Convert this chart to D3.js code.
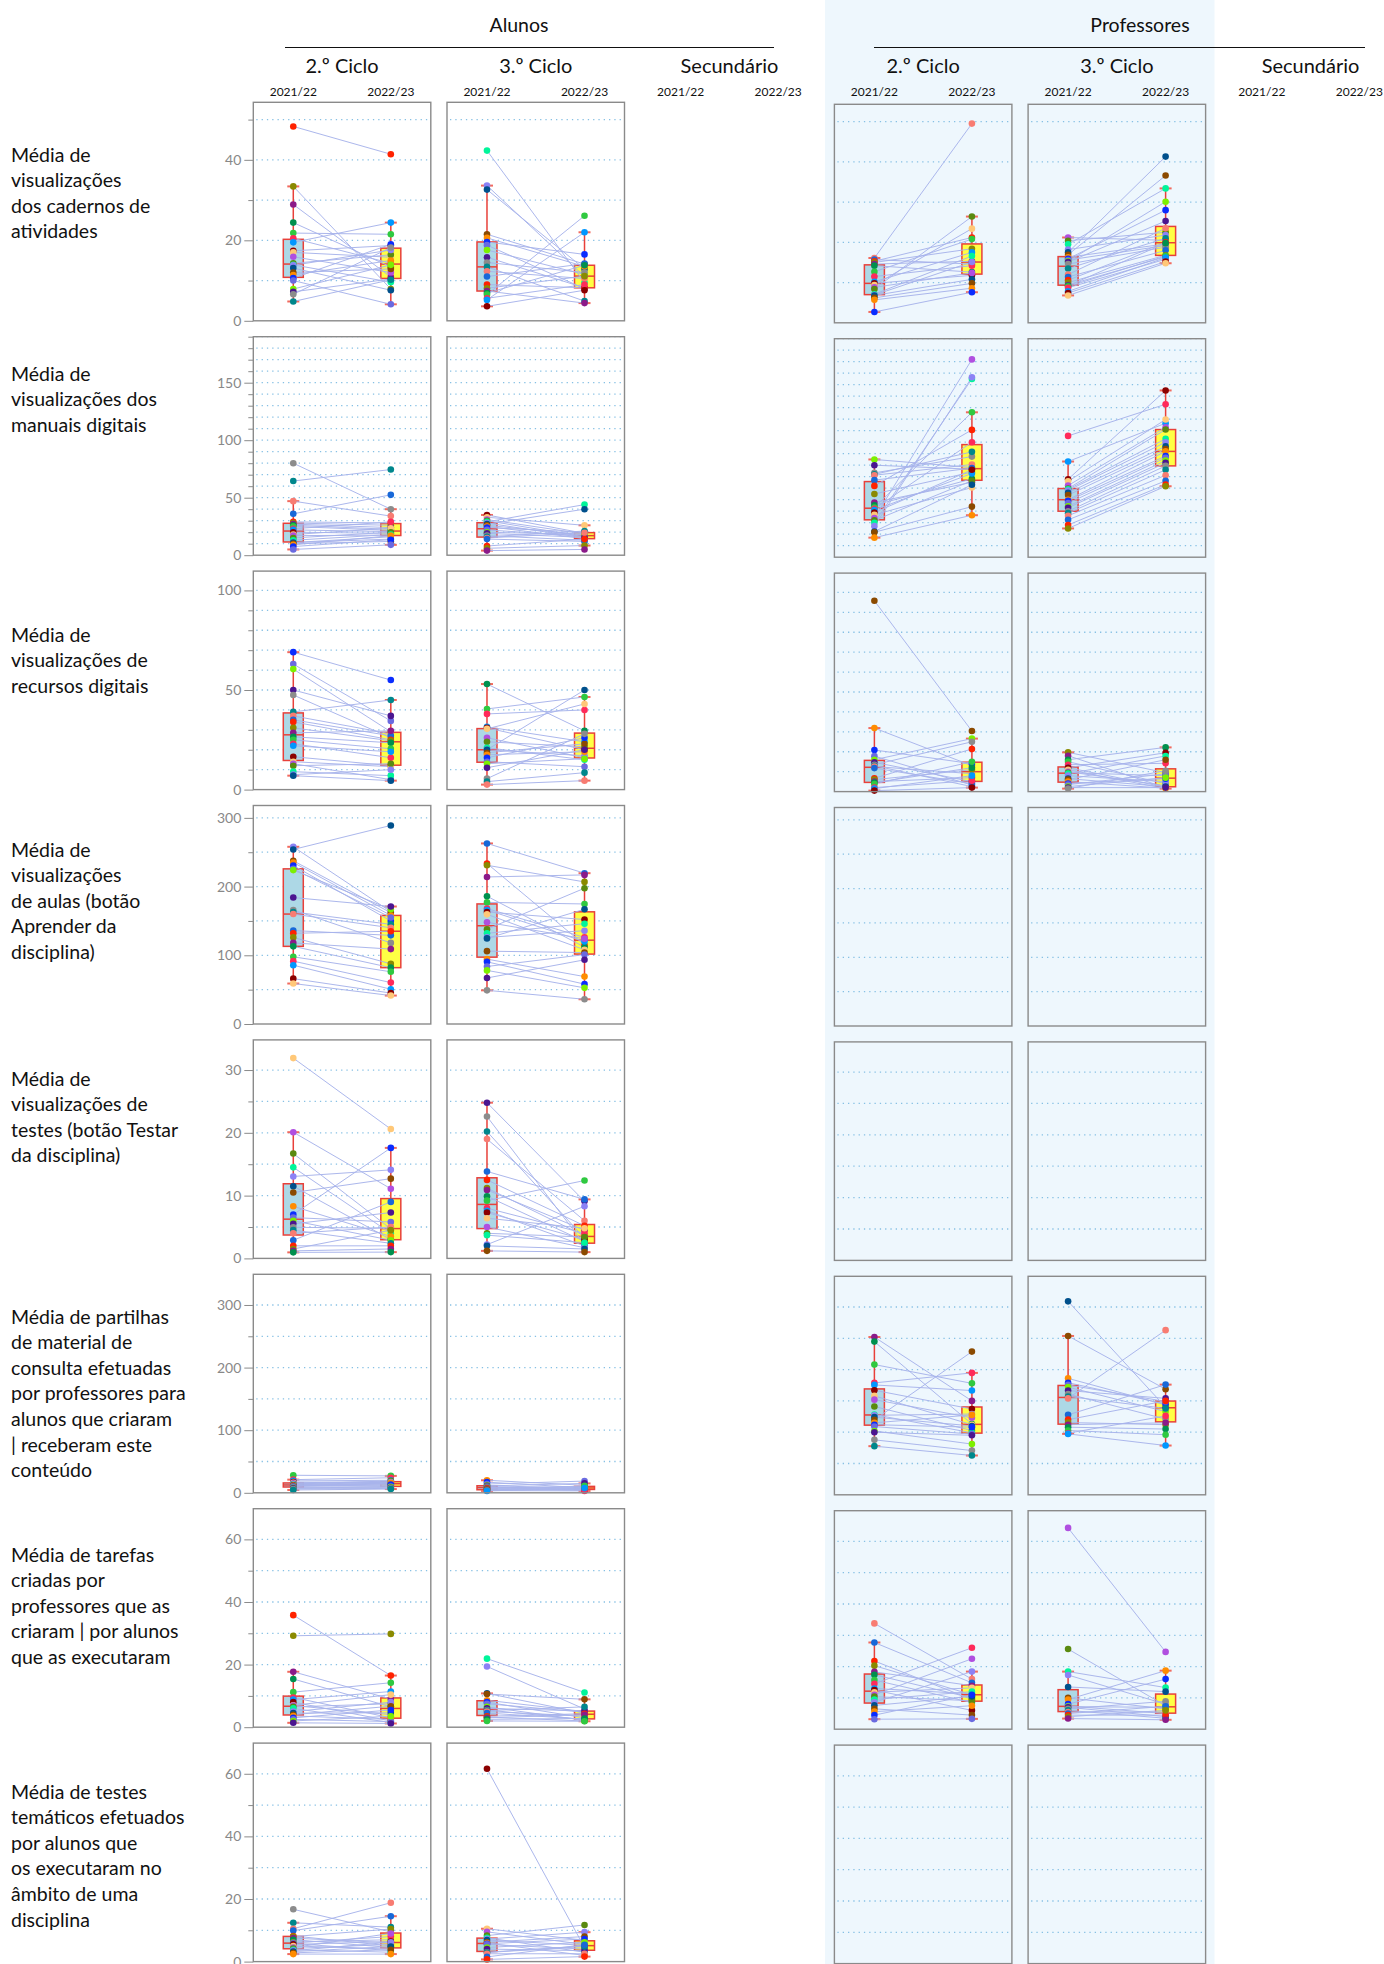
<!DOCTYPE html>
<html><head><meta charset="utf-8">
<script src="https://cdn.jsdelivr.net/npm/d3@7"></script>
<style>
html,body{margin:0;padding:0;background:#fff;}
svg{display:block;font-family:Lato,"Noto Sans",sans-serif;}
</style></head><body>
<svg id="chart" width="1384" height="1964"></svg>
<script>
// ---------- categories / labels ----------
const groups = ["Alunos", "Professores"];
const cycles = ["2.º Ciclo", "3.º Ciclo", "Secundário"];
const years = ["2021/22", "2022/23"];
const rowLabels = [
  ["Média de", "visualizações", "dos cadernos de", "atividades"],
  ["Média de", "visualizações dos", "manuais digitais"],
  ["Média de", "visualizações de", "recursos digitais"],
  ["Média de", "visualizações", "de aulas (botão", "Aprender da", "disciplina)"],
  ["Média de", "visualizações de", "testes (botão Testar", "da disciplina)"],
  ["Média de partilhas", "de material de", "consulta efetuadas", "por professores para", "alunos que criaram", "| receberam este", "conteúdo"],
  ["Média de tarefas", "criadas por", "professores que as", "criaram | por alunos", "que as executaram"],
  ["Média de testes", "temáticos efetuados", "por alunos que", "os executaram no", "âmbito de uma", "disciplina"]
];
// upper end of each row's value axis
const rowMax = [54.3, 190, 109.7, 318, 34.8, 349, 69.8, 69.8];

// ---------- data: one [2021/22, 2022/23] pair per school ----------
const cad_a2 = [[48.3,41.4],[33.4,7.9],[28.9,10.9],[24.4,13.4],[21.8,21.5],[20.5,14.3],[19.5,24.4],[17.4,18.7],[17.0,15.8],[15.9,12.0],[14.3,16.4],[13.9,9.6],[13.8,17.6],[13.1,7.6],[12.0,12.9],[11.4,15.0],[10.6,19.0],[10.0,4.1],[7.9,13.9],[7.2,10.4],[6.6,18.2],[4.8,10.2]];
const cad_a3 = [[42.3,9.5],[33.6,11.0],[32.6,12.9],[21.5,14.1],[20.6,13.5],[19.6,16.5],[18.8,8.0],[17.6,11.5],[15.8,8.2],[14.5,12.0],[13.4,4.9],[12.3,10.5],[11.0,14.2],[9.0,8.2],[8.1,11.1],[7.4,4.4],[6.9,13.8],[6.5,26.1],[5.6,9.0],[5.2,22.0],[3.6,7.6]];
const cad_p2 = [[16.1,49.5],[15.7,14.6],[15.3,21.2],[15.0,18.4],[14.6,15.3],[14.2,12.6],[12.7,20.8],[11.5,14.2],[10.2,17.5],[9.8,11.8],[9.4,23.4],[8.8,12.4],[8.4,26.4],[7.1,16.6],[6.9,15.1],[6.8,10.8],[6.2,9.8],[5.7,8.6],[2.7,7.6]];
const cad_p3 = [[21.2,20.5],[20.4,22.5],[19.5,33.4],[18.2,21.8],[17.5,41.3],[16.9,36.6],[16.3,19.6],[15.9,28.0],[15.6,19.2],[15.3,30.1],[15.1,25.3],[14.6,18.8],[13.5,21.0],[12.0,23.5],[11.4,18.0],[10.6,20.0],[10.0,16.8],[9.4,16.4],[9.2,19.8],[9.0,16.6],[8.7,15.8],[7.8,16.2],[7.4,15.2],[6.8,14.8]];

const man_a2 = [[80,40],[64.5,74.5],[47,34],[36,52.5],[29,28],[28,26],[27,24],[26,22.5],[25,21.5],[23,29],[22,20.5],[20,19],[18,23.5],[17,17.5],[15,20],[13,18],[11,16],[11,14],[10,12],[9,17],[7.5,13.5],[5,9]];
const man_a3 = [[35,19],[33,26],[31,18.5],[30,16],[29,44],[28,15],[27,40],[26,17.5],[25,14.5],[24,20],[22,16.5],[20,18],[19,15.5],[17,13],[16,21],[15,19.5],[14,12],[8,14],[6,8.4],[4,5]];
const man_p2 = [[85,78],[80,76.5],[73.3,87.5],[72,91.6],[71.3,80.6],[67,77.5],[62,110.7],[55,74],[47.5,65.2],[45.2,68.1],[43.2,126],[42,100],[41,72.8],[38.8,76],[36.8,60.6],[34,172],[32,66.5],[30,155],[27,156.5],[22.3,63],[21.7,44],[17,36.5]];
const man_p3 = [[105.5,133],[83.2,116.5],[67.8,145],[66,119.7],[62.3,113],[59.7,111],[59,103],[58,100],[56,96.5],[54,94],[50,92],[49,88],[47,86.4],[44.3,84],[43,82],[40,79.4],[38.3,76],[36,71.3],[32.5,66.4],[28,63.2],[25,61.7]];

const rec_a2 = [[69,55],[63,34.5],[60.5,29],[50,37],[47.5,26],[39,45],[37,28],[35,27],[34,25],[31,24.5],[28.5,29.5],[26.5,23.5],[25,20.5],[23,16],[22,19],[16.5,12],[14,11.5],[13,5],[12,13],[9,7],[7.5,10],[7,4.5]];
const rec_a3 = [[53,29.5],[40.5,46.5],[38,40],[31.5,24],[31,20],[30.5,43],[26,16],[24,21.5],[21,15],[20,17],[20,50],[18.5,23],[17.5,19],[16,26],[14,11.5],[13,15.5],[11,20],[5.5,28],[4,8.5],[2.5,4.5]];
const rec_p2 = [[95.8,30.4],[31.9,13],[20.9,14],[17.8,3.3],[16,26.6],[14.7,5],[13.5,25],[13,2.5],[12.6,9],[11.8,4],[6.7,21.4],[6,11],[5,7],[4.5,12],[3.8,15],[2,5.5],[1.5,8],[0.5,2]];
const rec_p3 = [[19.7,9.5],[18,2],[16,22.2],[15,4],[13.5,14.2],[12,2.2],[12,19.5],[11,1.5],[10,3],[9.5,8],[9,17.9],[8,5],[6.5,2.5],[6,16],[5,1.7],[4,6.5],[3.5,8.9],[2.5,7],[2,2],[1.5,10.5]];

const aul_a2 = [[257.9,163.5],[254,289],[237.5,162],[235,158],[230.7,150],[225.8,155],[224,167],[184,171],[166,118],[163,145],[160,140],[136,129],[132,135],[126,87.6],[118,109],[113,82],[97.8,76],[91.5,60.3],[85.6,50.6],[66,45],[58.9,41.4]];
const aul_a3 = [[262.8,219.5],[233.6,115],[231,206.8],[214,217],[186,112],[177,174.7],[168,126],[166,120],[163,152],[159.6,108],[148,124],[138,197.6],[132,146],[126,135.8],[124.6,167],[106,104],[94.4,69],[90.5,58],[83.7,101],[78,52.6],[67,93.4],[49,36]];

const tes_a2 = [[31.9,20.6],[20.1,11.1],[16.7,4.7],[14.5,4],[13.05,14.1],[11.5,3],[10.5,12.7],[8.3,3.5],[7,17.6],[6.5,5.8],[6,2.9],[5.5,7.3],[4.95,4.8],[4.5,2.4],[4,5],[2.9,9],[2,2],[1.5,4.5],[1.2,1.5],[0.96,1]];
const tes_a3 = [[24.8,9.1],[22.6,2.2],[20.2,3.2],[19,6],[13.85,9.4],[12.5,5.2],[11.2,3.6],[10.9,4.5],[9.9,2.7],[9.2,12.4],[8,4],[7.6,2],[7.3,3],[6.4,4.8],[5,1.7],[4,3.4],[3.7,2.5],[2.2,8.3],[2,1.5],[1.2,1]];

const par_a2 = [[28,27],[21,24],[19,20],[17,16.5],[16,18],[15,12],[14,19],[13.5,15],[13,17],[12,14],[12,11],[11,16],[10,13],[9,10],[8,9],[7,8],[6,7],[4.5,6]];
const par_a3 = [[20,12],[17,8],[14,18.7],[12,6],[11,15],[10,5],[9,9],[8.5,7],[8,10],[7,4.5],[6,8.5],[5,4],[4.5,5.5],[4,11],[3.5,3],[3,7.5]];
const par_p2 = [[252,150],[244.7,113],[208,178],[178.7,194.7],[175.5,166.5],[167,137],[158,112],[152,123],[141,102.7],[128,99],[127,129],[124,110],[119.7,228.7],[115,127.6],[112,108],[109,97],[102,81],[100,95],[87.8,70.7],[77.7,62.8]];
const par_p3 = [[309,140],[253.7,168.6],[186,143.6],[179,145],[175.5,149],[172,133],[166.5,154],[161,121],[157,138],[154,263],[127.7,176],[120,150],[115.4,112],[112,115],[108,105],[102.7,96],[98.4,126],[97.3,78.7]];

const tar_a2 = [[35.8,16.5],[29.2,29.8],[17.7,9],[15.4,6.5],[11.2,14.2],[9.5,3],[8.8,11.4],[8,2],[7,10.4],[6.9,4],[6.5,7.5],[6,1.5],[5,8],[4.5,4.6],[4,6.7],[3.6,2.5],[3,5.5],[2.5,1.8],[2,3.5],[1.4,1.2]];
const tar_a3 = [[21.9,11.1],[19.4,5.8],[10.8,4.5],[10.6,8.9],[8.6,5],[8,3],[7.5,4.8],[6.5,2.2],[6,5.2],[5.5,2.4],[5.3,6.5],[5,3.6],[4.5,2.6],[3.5,4.3],[3.2,2],[3,4],[2.5,2.8],[2,1.9]];
const tar_p2 = [[33.8,16],[27.7,14.8],[21.8,9.5],[20.3,11],[18.3,13.9],[17.4,10],[15.7,8.5],[14.5,26],[13,11.3],[12.5,6],[11.8,13.2],[11,22.5],[10.4,9.1],[9.5,12],[8.6,18.4],[7.6,10.5],[6.5,4.5],[5.6,7.5],[4.5,11],[3.2,3.3]];
const tar_p3 = [[64.3,24.7],[25.6,7.5],[18.4,13.3],[17.3,8],[13.5,12],[10,6.5],[9.5,18.7],[8,16],[7.4,5],[7.2,7],[7,4],[6.5,8.9],[6,3.5],[5.5,5.5],[5,7.3],[4.5,4.5],[4,6],[3.4,3]];

const tem_a2 = [[16.7,9.5],[12.4,11],[10.5,18.8],[9.9,14.5],[8.2,5],[8,10.4],[7.5,6],[7,4.5],[6.2,7],[6,8],[5.8,3.5],[5.5,6.4],[5,4],[4.5,9],[4.2,5.5],[3.8,3],[3.5,6.2],[3.2,4.8],[2.8,3.8],[2.4,2.4]];
const tem_a3 = [[61.6,4.5],[10.5,6.8],[9.5,5.5],[8.3,11.7],[7.6,3],[7.2,9.4],[6.9,5.2],[6.2,8],[5.9,2],[5.7,7.2],[5.5,4],[4.5,6.2],[4,3.5],[3,5],[2.9,4.8],[2.5,2.5],[1.5,5.4],[0.7,1.6]];

// ---------- layout (not data) ----------
const W = 1384, H = 1964;
const colX = d3.range(6).map(i => 253.3 + i * 193.7);
const PW = 177.5, PH = 218.5, ROW0 = 102.3, ROWSTEP = 234.4;
const labelFirstY = [154, 373, 634, 849, 1078, 1316, 1554, 1791];
const schoolPalette = ["#ff2200","#8b0000","#8b4a00","#00878c","#2fc940","#00f59a","#7cf000","#8a8a00","#ffc878","#ff8c00","#f87c72","#ff2a5a","#8c82f5","#4b1590","#8b1a89","#b04fe0","#0a2cff","#1868d8","#0097ff","#00508c","#8c8c8c","#00904e","#5a8a10","#6a6ae0"];

// panel table built from the named arrays (col: 0,1,2 Alunos; 3,4,5 Professores)
const panels = [
  {row:0,col:0,data:cad_a2},{row:0,col:1,data:cad_a3},{row:0,col:3,data:cad_p2},{row:0,col:4,data:cad_p3},
  {row:1,col:0,data:man_a2},{row:1,col:1,data:man_a3},{row:1,col:3,data:man_p2},{row:1,col:4,data:man_p3},
  {row:2,col:0,data:rec_a2},{row:2,col:1,data:rec_a3},{row:2,col:3,data:rec_p2},{row:2,col:4,data:rec_p3},
  {row:3,col:0,data:aul_a2},{row:3,col:1,data:aul_a3},{row:3,col:3,data:null},{row:3,col:4,data:null},
  {row:4,col:0,data:tes_a2},{row:4,col:1,data:tes_a3},{row:4,col:3,data:null},{row:4,col:4,data:null},
  {row:5,col:0,data:par_a2},{row:5,col:1,data:par_a3},{row:5,col:3,data:par_p2},{row:5,col:4,data:par_p3},
  {row:6,col:0,data:tar_a2},{row:6,col:1,data:tar_a3},{row:6,col:3,data:tar_p2},{row:6,col:4,data:tar_p3},
  {row:7,col:0,data:tem_a2},{row:7,col:1,data:tem_a3},{row:7,col:3,data:null},{row:7,col:4,data:null}
];

const svg = d3.select("#chart");
const FONT = 'Lato,"Noto Sans",sans-serif';

// professores background band
svg.append("rect").attr("x", 825).attr("y", 0).attr("width", 389.5).attr("height", H).attr("fill", "#eef7fd");

// group headers
const groupHead = [
  {name: groups[0], tx: 519, x1: 285, x2: 774},
  {name: groups[1], tx: 1140, x1: 874, x2: 1365}
];
groupHead.forEach(g => {
  svg.append("text").attr("x", g.tx).attr("y", 24).attr("text-anchor", "middle")
    .attr("dominant-baseline", "central").attr("font-size", 19.5).attr("fill", "#111").text(g.name);
  svg.append("line").attr("x1", g.x1).attr("x2", g.x2).attr("y1", 47.5).attr("y2", 47.5)
    .attr("stroke", "#111").attr("stroke-width", 1.2);
});

// column headers + year labels
const xBand = d3.scalePoint().domain(years).range([0, PW]).padding(0.41);
d3.range(6).forEach(c => {
  svg.append("text").attr("x", colX[c] + PW / 2).attr("y", 64.5).attr("text-anchor", "middle")
    .attr("dominant-baseline", "central").attr("font-size", 20).attr("fill", "#111").text(cycles[c % 3]);
  years.forEach(yr => {
    svg.append("text").attr("x", colX[c] + xBand(yr)).attr("y", 91.5).attr("text-anchor", "middle")
      .attr("dominant-baseline", "central").attr("font-size", 12).attr("fill", "#111").text(yr);
  });
});

// row labels
rowLabels.forEach((lines, r) => {
  const t = svg.append("text").attr("font-size", 19.5).attr("fill", "#111");
  lines.forEach((ln, i) => {
    t.append("tspan").attr("x", 11).attr("y", labelFirstY[r] + i * 25.6)
      .attr("dominant-baseline", "central").text(ln);
  });
});

function boxStats(vals) {
  const s = vals.slice().sort(d3.ascending);
  const q1 = d3.quantile(s, 0.25), med = d3.quantile(s, 0.5), q3 = d3.quantile(s, 0.75);
  const iqr = q3 - q1;
  const lo = d3.min(s.filter(v => v >= q1 - 1.5 * iqr));
  const hi = d3.max(s.filter(v => v <= q3 + 1.5 * iqr));
  return {q1, med, q3, lo, hi};
}

panels.forEach((p, k) => {
  const prof = p.col >= 3;
  const px = colX[p.col], py = ROW0 + p.row * ROWSTEP + (prof ? 2 : 0);
  const g = svg.append("g").attr("transform", `translate(${px},${py})`);
  const max = rowMax[p.row];
  const y = d3.scaleLinear().domain([0, max]).range([PH, 0]);
  const x = d3.scalePoint().domain(years).range([0, PW]).padding(0.41);

  if (!prof) g.append("rect").attr("width", PW).attr("height", PH).attr("fill", "#fff");

  const major = y.ticks(3);
  const step = major[1] - major[0];
  const lead = step / Math.pow(10, Math.floor(Math.log10(step)) );
  const minorStep = Math.abs(lead - 5) < 1e-9 ? step / 5 : step / 2;
  const nMinor = Math.floor(max / minorStep + 1e-9);
  const grid = d3.range(1, nMinor + 1).map(j => +(j * minorStep).toFixed(6));

  g.append("g").selectAll("line").data(grid).join("line")
    .attr("x1", 3).attr("x2", PW).attr("y1", d => y(d)).attr("y2", d => y(d))
    .attr("stroke", "#86c0e4").attr("stroke-width", 1.3).attr("stroke-dasharray", "1.3,4");

  if (p.col === 0) {
    const ax = g.append("g").call(d3.axisLeft(y).tickValues(major).tickSize(9).tickPadding(3).tickFormat(d3.format("d")));
    ax.attr("font-family", FONT).attr("font-size", 14);
    ax.select(".domain").remove();
    ax.selectAll("line").attr("stroke", "#8a8a8a");
    ax.selectAll("text").attr("fill", "#888");
    const minorVals = grid.filter(v => !major.some(m => Math.abs(m - v) < 1e-9));
    const ax2 = g.append("g").call(d3.axisLeft(y).tickValues(minorVals).tickSize(5).tickFormat(""));
    ax2.select(".domain").remove();
    ax2.selectAll("line").attr("stroke", "#8a8a8a");
  }

  if (p.data) {
    const fills = ["#add8e6", "#ffff44"];
    years.forEach((yr, j) => {
      const st = boxStats(p.data.map(d => d[j]));
      const cx = x(yr);
      g.append("line").attr("x1", cx).attr("x2", cx).attr("y1", y(st.hi)).attr("y2", y(st.q3))
        .attr("stroke", "#e8403a").attr("stroke-width", 1.5);
      g.append("line").attr("x1", cx).attr("x2", cx).attr("y1", y(st.q1)).attr("y2", y(st.lo))
        .attr("stroke", "#e8403a").attr("stroke-width", 1.5);
      g.append("rect").attr("x", cx - 10).attr("width", 20).attr("y", y(st.q3)).attr("height", y(st.q1) - y(st.q3))
        .attr("fill", fills[j]).attr("stroke", "#e8403a").attr("stroke-width", 1.5);
      g.append("line").attr("x1", cx - 10).attr("x2", cx + 10).attr("y1", y(st.med)).attr("y2", y(st.med))
        .attr("stroke", "#e8403a").attr("stroke-width", 1.5);
      [st.lo, st.hi].forEach(v => {
        g.append("line").attr("x1", cx - 6).attr("x2", cx + 6).attr("y1", y(v)).attr("y2", y(v))
          .attr("stroke", "#f26a5e").attr("stroke-width", 2);
      });
    });
    g.append("g").selectAll("line").data(p.data).join("line")
      .attr("x1", x(years[0])).attr("x2", x(years[1]))
      .attr("y1", d => y(d[0])).attr("y2", d => y(d[1]))
      .attr("stroke", "#a8b4ec").attr("stroke-width", 1).attr("opacity", 0.95);
    const color = (i) => schoolPalette[(i * 7 + k * 5) % schoolPalette.length];
    years.forEach((yr, j) => {
      g.append("g").selectAll("circle").data(p.data).join("circle")
        .attr("cx", x(yr)).attr("cy", d => y(d[j])).attr("r", 3.3)
        .attr("fill", (d, i) => color(i));
    });
  }

  g.append("rect").attr("width", PW).attr("height", PH).attr("fill", "none")
    .attr("stroke", "#8a8a8a").attr("stroke-width", 1.4);
});
</script>
</body></html>
